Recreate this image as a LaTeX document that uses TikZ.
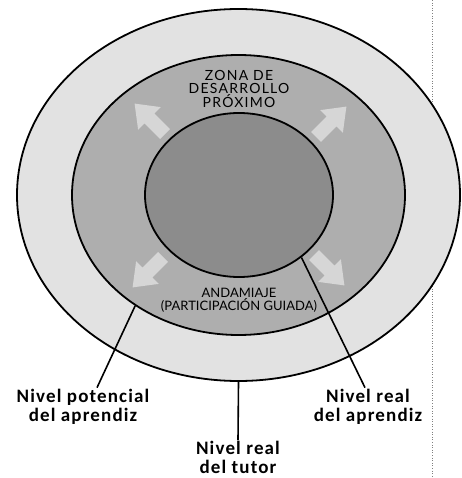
\documentclass[tikz,border=0pt]{standalone}
\usepackage{fontspec}
\usetikzlibrary{shapes.geometric}
\newfontfamily\zonefont[LetterSpace=9]{Lato}
\newfontfamily\andafont{Lato}
\newfontfamily\handfont[LetterSpace=6]{Carlito}
\definecolor{outergray}{HTML}{E2E2E2}
\definecolor{middlegray}{HTML}{AEAEAE}
\definecolor{innergray}{HTML}{8C8C8C}
\definecolor{arrowgray}{HTML}{D6D6D6}
\tikzset{
  ring/.style={draw=black, line width=1.8pt, ellipse, inner sep=0pt},
  leader/.style={draw=black, line width=1.6pt},
  hand/.style={font=\handfont\bfseries\fontsize{19}{19}\selectfont, align=center, inner sep=1pt},
  zone/.style={font=\zonefont\fontsize{14}{12.8}\selectfont, align=center},
  anda/.style={font=\andafont\fontsize{13}{12}\selectfont, align=center},
  blockarrow/.pic={\fill[arrowgray] (0,-7) -- (22,-7) -- (22,-16) -- (43,0) -- (22,16) -- (22,7) -- (0,7) -- cycle;}
}
\begin{document}
\begin{tikzpicture}[x=1pt, y=-1pt]
    \useasboundingbox (0,0) rectangle (461,478);

    % Page margin
    \draw[gray, dotted, line width=0.6pt] (432,0) -- (432,478);

    % Levels
    \node[ring, fill=outergray, minimum width=443pt, minimum height=372pt] (outer) at (238.5,195) {};
    \node[ring, fill=middlegray, minimum width=333pt, minimum height=280pt] (middle) at (238.5,195) {};

    % Scaffolding arrows
    \pic[rotate=135] at (165,134) {blockarrow};
    \pic[rotate=45] at (316,137) {blockarrow};
    \pic[rotate=225] at (163,257) {blockarrow};
    \pic[rotate=315] at (314,255) {blockarrow};

    \node[ring, fill=innergray, minimum width=188pt, minimum height=164pt] (inner) at (239,195) {};

    % Zone texts
    \node[zone] (zdp) at (239,89) {ZONA DE\\DESARROLLO\\PRÓXIMO};
    \node[anda] (andamiaje) at (239,300) {ANDAMIAJE\\(PARTICIPACIÓN GUIADA)};

    % Labels
    \node[hand] (potencial) at (83,406.5) {Nivel potencial\\del aprendiz};
    \node[hand] (realaprendiz) at (368,406.5) {Nivel real\\del aprendiz};
    \node[hand] (tutor) at (238,457.5) {Nivel real\\del tutor};

    % Leaders
    \draw[leader] (middle.227.8) -- ([xshift=14pt]potencial.north);
    \draw[leader] (inner.315.5) -- ([xshift=-3pt]realaprendiz.north);
    \draw[leader] (outer.south) -- (tutor.north);
\end{tikzpicture}
\end{document}
